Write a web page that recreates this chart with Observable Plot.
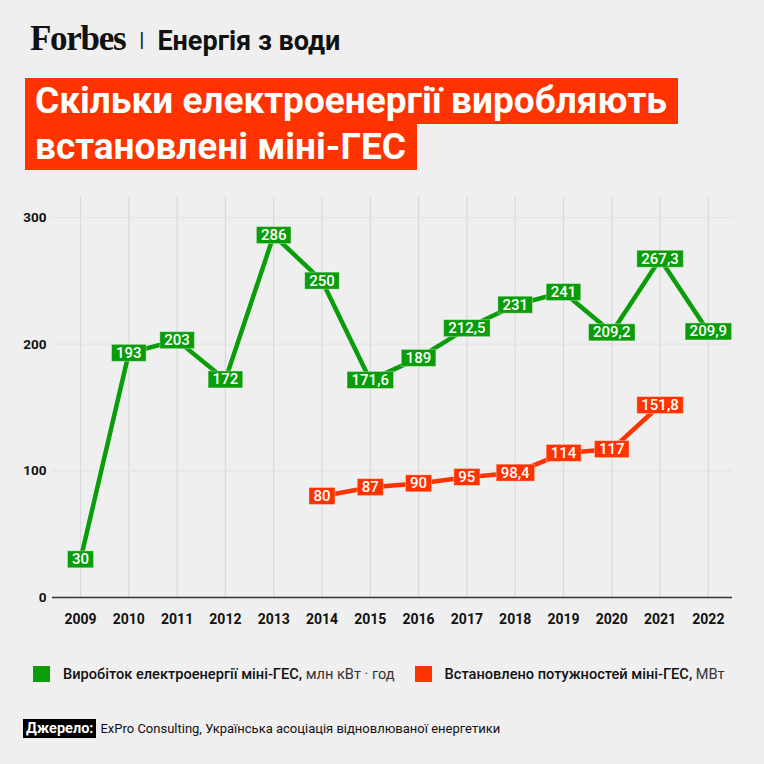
<!DOCTYPE html>
<html>
<head>
<meta charset="utf-8">
<script src="https://cdn.jsdelivr.net/npm/d3@7"></script>
<script src="https://cdn.jsdelivr.net/npm/@observablehq/plot@0.6"></script>
<style>
  html, body { margin: 0; padding: 0; background: #efefef; }
  #page { position: relative; width: 764px; height: 764px; overflow: hidden; background: #efefef; font-family: Roboto, "Noto Sans", sans-serif; color: #111; }
  #brand { position: absolute; left: 30px; top: 19px; display: flex; align-items: baseline; white-space: nowrap; }
  #brand .logo { font-family: "Liberation Serif", "DejaVu Serif", serif; font-weight: 700; font-size: 35px; letter-spacing: -1.3px; color: #111; }
  #brand .sep { font-size: 21px; color: #111; margin: 0 13px 0 14px; position: relative; top: -3px; font-weight: 400; }
  #brand .rubric { font-size: 27px; font-weight: 700; color: #111; }
  #title { position: absolute; left: 25px; top: 78px; display: flex; flex-direction: column; align-items: flex-start; }
  #title div { background: #ff3300; color: #fff; font-size: 37px; font-weight: 700; height: 46px; line-height: 46px; padding: 0 11px 0 10px; white-space: nowrap; }
  #chart { position: absolute; left: 0; top: 187px; }
  #legend { position: absolute; left: 33px; top: 665px; display: flex; align-items: center; font-size: 14.6px; white-space: nowrap; }
  #legend .sw { width: 17px; height: 16px; display: inline-block; margin-right: 13px; }
  #legend .item { display: flex; align-items: center; }
  #legend b { font-weight: 500; }
  #legend span.u { font-weight: 400; color: #333; }
  #source { position: absolute; left: 23px; top: 719px; display: flex; align-items: center; font-size: 13px; white-space: nowrap; }
  #source .k { background: #000; color: #fff; font-weight: 700; font-size: 14.5px; height: 19px; line-height: 19px; padding: 0 3px; margin-right: 4px; }
</style>
</head>
<body>
<div id="page">
  <div id="brand"><span class="logo">Forbes</span><span class="sep">|</span><span class="rubric">Енергія з води</span></div>
  <div id="title"><div>Скільки електроенергії виробляють</div><div>встановлені міні-ГЕС</div></div>
  <div id="chart"></div>
  <div id="legend">
    <div class="item"><span class="sw" style="background:#0a9d0a"></span><b>Виробіток електроенергії міні-ГЕС,</b>&nbsp;<span class="u">млн кВт · год</span></div>
    <div class="item" style="margin-left:20px"><span class="sw" style="background:#ff3300"></span><b>Встановлено потужностей міні-ГЕС,</b>&nbsp;<span class="u">МВт</span></div>
  </div>
  <div id="source"><span class="k">Джерело:</span><span>ExPro Consulting, Українська асоціація відновлюваної енергетики</span></div>
</div>
<script>
const years = [2009, 2010, 2011, 2012, 2013, 2014, 2015, 2016, 2017, 2018, 2019, 2020, 2021, 2022];
const production = [30, 193, 203, 172, 286, 250, 171.6, 189, 212.5, 231, 241, 209.2, 267.3, 209.9];
const capacityYears = [2014, 2015, 2016, 2017, 2018, 2019, 2020, 2021];
const capacity = [80, 87, 90, 95, 98.4, 114, 117, 151.8];
const yTicks = [0, 100, 200, 300];

const green = "#0a9d0a";
const red = "#ff3300";

const prodData = years.map((y, i) => ({year: y, value: production[i]}));
const capData = capacityYears.map((y, i) => ({year: y, value: capacity[i]}));
const fmt = v => String(v).replace(".", ",");

const plot = Plot.plot({
  width: 764,
  height: 450,
  marginTop: 10,
  marginBottom: 40,
  marginLeft: 52,
  marginRight: 32,
  style: {background: "transparent", fontFamily: "Roboto, sans-serif"},
  x: {type: "linear", domain: [2008.42, 2022.5]},
  y: {domain: [0, 315.8]},
  marks: [
    Plot.ruleX(years, {stroke: "#d9d9d9", strokeWidth: 1.2}),
    Plot.ruleY(yTicks.filter(d => d > 0), {stroke: "#e3e3e3", strokeWidth: 1.2}),
    Plot.ruleY([0], {stroke: "#333", strokeWidth: 1.5}),
    Plot.axisY(yTicks, {tickSize: 0, tickPadding: 6, fontSize: 13.5, fontWeight: 700, fill: "#111", label: null}),
    Plot.axisX(years, {tickSize: 0, tickPadding: 17, fontSize: 14, fontWeight: 700, fill: "#111", tickFormat: d => String(d), label: null}),
    Plot.line(prodData, {x: "year", y: "value", stroke: green, strokeWidth: 4.5, strokeLinejoin: "miter"}),
    Plot.line(capData, {x: "year", y: "value", stroke: red, strokeWidth: 4.5, strokeLinejoin: "miter"}),
    Plot.text(prodData, {x: "year", y: "value", text: d => fmt(d.value), fill: "#fff", fontSize: 15, fontWeight: 500, className: "lbl-green"}),
    Plot.text(capData, {x: "year", y: "value", text: d => fmt(d.value), fill: "#fff", fontSize: 15, fontWeight: 500, className: "lbl-red"})
  ]
});

document.getElementById("chart").appendChild(plot);

function boxes(cls, color) {
  const g = plot.querySelector("g." + cls);
  if (!g) return;
  g.querySelectorAll("text").forEach(t => {
    const b = t.getBBox();
    const r = document.createElementNS("http://www.w3.org/2000/svg", "rect");
    const padX = 4.5;
    const h = 17;
    r.setAttribute("x", b.x - padX);
    r.setAttribute("y", b.y + b.height / 2 - h / 2);
    r.setAttribute("width", b.width + 2 * padX);
    r.setAttribute("height", h);
    r.setAttribute("fill", color);
    r.setAttribute("stroke", "#ffffff");
    r.setAttribute("stroke-opacity", "0.35");
    r.setAttribute("stroke-width", "1");
    const tr = t.getAttribute("transform");
    if (tr) r.setAttribute("transform", tr);
    g.insertBefore(r, t);
  });
}
boxes("lbl-green", green);
boxes("lbl-red", red);
</script>
</body>
</html>
